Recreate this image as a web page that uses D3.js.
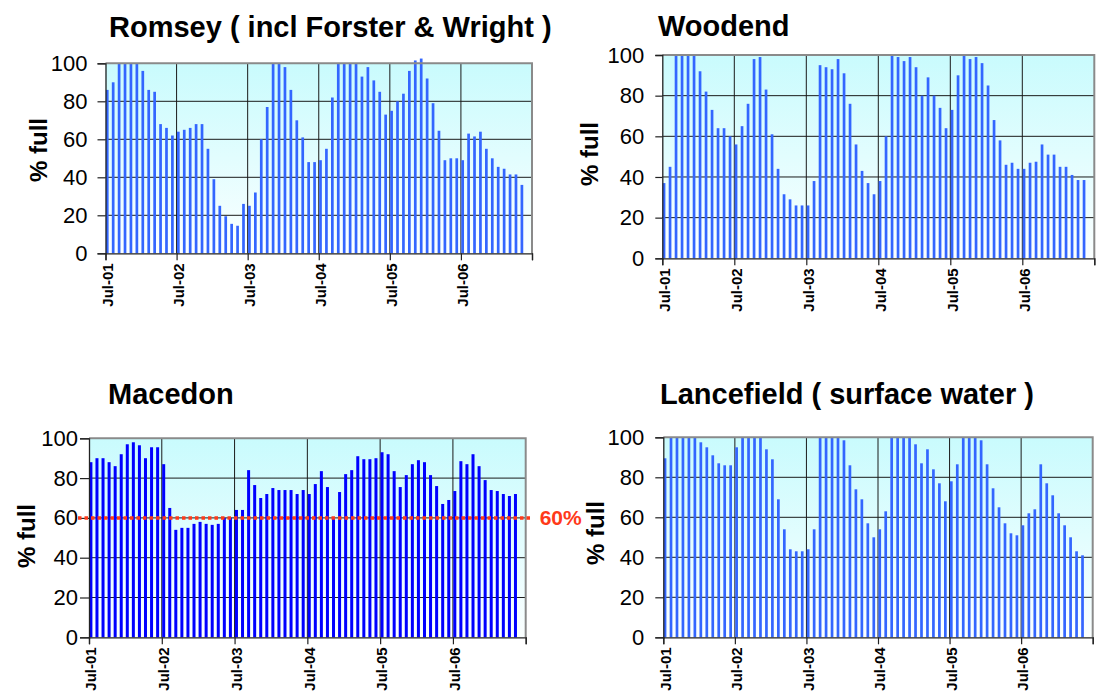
<!DOCTYPE html>
<html>
<head>
<meta charset="utf-8">
<script src="https://cdn.jsdelivr.net/npm/d3@7"></script>
<style>
  html, body { margin: 0; padding: 0; background: #ffffff; }
  svg { display: block; font-family: "Liberation Sans", Arial, sans-serif; }
</style>
</head>
<body>
<svg id="chart" width="1096" height="700"></svg>
<script>
// Monthly storage levels (% full), July 2001 onwards
const yearLabels = ["Jul-01", "Jul-02", "Jul-03", "Jul-04", "Jul-05", "Jul-06"];
const yTicks = [0, 20, 40, 60, 80, 100];
const monthSlots = 72;
const targetLevel = 60;
const targetLabel = "60%";

const romsey = [
  86, 90, 100, 100, 100, 100, 96, 86, 85, 68, 66, 62,
  64, 65, 66, 68, 68, 55, 39, 25, 19.5, 15.5, 14.5, 26,
  25, 32, 60, 77, 100, 100, 98, 86, 70, 61, 48, 48,
  49, 55, 82, 100, 100, 100, 100, 93, 98, 91, 85, 73,
  75, 80, 84, 96, 101.5, 102.5, 92, 79, 64.5, 49, 50, 50,
  49, 63, 61.5, 64, 55, 50, 45.5, 44.5, 41.5, 41.5, 36
];
const woodend = [
  37, 45, 100, 100, 100, 100, 92, 82, 73, 64, 64, 60,
  56, 65, 76, 98, 99, 83, 61, 44, 31.5, 29, 26, 26,
  26, 38, 95, 94, 93, 98, 91, 76, 56, 43, 37, 31.5,
  38, 60, 100, 99, 97, 99, 94, 80, 89, 80, 74, 64,
  73, 90, 100, 98, 99, 96, 85, 68, 58, 46, 47, 44,
  44, 47, 47.5, 56, 51, 51, 45, 45, 41, 38.5, 38.5
];
const macedon = [
  88, 90, 90, 88, 86, 92, 97, 98, 96.5, 90, 95.5, 95.5,
  87, 65, 54, 55, 55, 57, 58, 57, 56.5, 57, 60, 60,
  64, 64, 84, 76.5, 70, 72, 75, 74, 74, 74, 72, 74,
  72, 77, 83.5, 75.5, 60, 73, 82, 84, 91, 89.5, 89.5, 90,
  93, 92, 83.5, 75.5, 81.5, 87, 89, 88, 81.5, 76, 67, 69,
  73.5, 88.5, 87, 92, 86, 79, 74, 73.5, 72, 71, 72
];
const lancefield = [
  89.5, 100, 100, 100, 100, 100, 97.5, 95, 91, 87, 86, 86,
  95, 100, 100, 100, 100, 94, 89, 69, 54, 44, 43, 43,
  44, 54, 100, 100, 100, 100, 98.5, 86, 74, 69, 57, 50,
  54, 63, 100, 100, 100, 100, 96.5, 87, 94, 84, 77, 68,
  78, 86.5, 100, 100, 100, 98.5, 86.5, 74.5, 65, 57, 52, 51,
  56, 62, 64, 86.5, 77, 71, 62, 56, 50, 43, 41
];

const panels = [
  { title: "Romsey ( incl Forster & Wright )", values: romsey, color: "#3366ff", barW: 2.7,
    x0: 105.5, x1: 532, y0: 63.3, y1: 253.3, tx: 109, ty: 37, lx: 39, ly: 150, tick: 8, pad: 10 },
  { title: "Woodend", values: woodend, color: "#3366ff", barW: 2.7,
    x0: 662.3, x1: 1094.3, y0: 55, y1: 258.3, tx: 658, ty: 36, lx: 590, ly: 154, tick: 7, pad: 11 },
  { title: "Macedon", values: macedon, color: "#0000ff", barW: 3,
    x0: 89, x1: 525.7, y0: 438.3, y1: 637.3, tx: 108, ty: 404, lx: 27, ly: 536, tick: 9, pad: 2, target: true },
  { title: "Lancefield ( surface water )", values: lancefield, color: "#3366ff", barW: 2.7,
    x0: 663.3, x1: 1092.7, y0: 437.3, y1: 637.3, tx: 660, ty: 404, lx: 596, ly: 533, tick: 8, pad: 11 }
];

const svg = d3.select("#chart");
const defs = svg.append("defs");
const grad = defs.append("linearGradient")
  .attr("id", "plotFill").attr("x1", 0).attr("y1", 0).attr("x2", 0).attr("y2", 1);
grad.append("stop").attr("offset", "0%").attr("stop-color", "#c9fbfd");
grad.append("stop").attr("offset", "100%").attr("stop-color", "#fbffff");

panels.forEach(p => {
  const g = svg.append("g");
  const x = d3.scaleLinear().domain([0, monthSlots]).range([p.x0, p.x1]);
  const y = d3.scaleLinear().domain([0, 100]).range([p.y1, p.y0]);

  // plot background
  g.append("rect")
    .attr("x", p.x0).attr("y", p.y0)
    .attr("width", p.x1 - p.x0).attr("height", p.y1 - p.y0)
    .attr("fill", "url(#plotFill)");

  // horizontal gridlines
  g.append("g").selectAll("line")
    .data(yTicks.filter(t => t > 0 && t < 100))
    .join("line")
    .attr("x1", p.x0).attr("x2", p.x1)
    .attr("y1", d => y(d)).attr("y2", d => y(d))
    .attr("stroke", "#1a1a1a").attr("stroke-width", 1);

  // vertical year gridlines
  const yearIdx = d3.range(1, yearLabels.length).map(k => k * 12);
  g.append("g").selectAll("line")
    .data(yearIdx)
    .join("line")
    .attr("x1", d => x(d)).attr("x2", d => x(d))
    .attr("y1", p.y0).attr("y2", p.y1)
    .attr("stroke", "#1a1a1a").attr("stroke-width", 1);

  // monthly bars
  g.append("g").selectAll("rect")
    .data(p.values)
    .join("rect")
    .attr("x", (d, i) => x(i) + 0.4)
    .attr("width", p.barW)
    .attr("y", d => y(d))
    .attr("height", d => y(0) - y(d))
    .attr("fill", p.color);

  // plot frame (top and right)
  g.append("path")
    .attr("d", `M${p.x0},${p.y0}H${p.x1}V${p.y1}`)
    .attr("fill", "none").attr("stroke", "#8a8a8a").attr("stroke-width", 2);

  // y axis
  const yAxis = g.append("g")
    .attr("transform", `translate(${p.x0},0)`)
    .call(d3.axisLeft(y).tickValues(yTicks).tickSize(p.tick).tickPadding(p.pad));
  yAxis.select(".domain").attr("stroke", "#222").attr("stroke-width", 1.3);
  yAxis.selectAll(".tick line").attr("stroke", "#222").attr("stroke-width", 1.2);
  yAxis.selectAll(".tick text")
    .attr("font-size", 22).attr("fill", "#000")
    .attr("font-family", "'Liberation Sans', Arial, sans-serif");

  // x axis with year labels
  const xAxis = g.append("g")
    .attr("transform", `translate(0,${p.y1})`)
    .call(d3.axisBottom(x)
      .tickValues(d3.range(0, monthSlots + 1, 12))
      .tickSize(7)
      .tickFormat(d => yearLabels[d / 12] || ""));
  xAxis.select(".domain").attr("stroke", "#222").attr("stroke-width", 1.3);
  xAxis.selectAll(".tick line").attr("stroke", "#222").attr("stroke-width", 1.2);
  xAxis.selectAll(".tick text")
    .attr("transform", "rotate(-90)")
    .attr("text-anchor", "end")
    .attr("x", -10).attr("y", 0).attr("dy", "0.45em")
    .attr("font-size", 15).attr("font-weight", "bold").attr("fill", "#000")
    .attr("font-family", "'Liberation Sans', Arial, sans-serif");

  // titles
  svg.append("text")
    .attr("x", p.tx).attr("y", p.ty)
    .attr("font-size", 29).attr("font-weight", "bold").attr("fill", "#000")
    .text(p.title);

  // y axis title
  svg.append("text")
    .attr("transform", `translate(${p.lx},${p.ly}) rotate(-90)`)
    .attr("text-anchor", "middle").attr("dy", "0.35em")
    .attr("font-size", 24).attr("font-weight", "bold").attr("fill", "#000")
    .text("% full");

  // 60% target line
  if (p.target) {
    const yt = y(targetLevel);
    svg.append("line")
      .attr("x1", p.x0 - 11).attr("x2", p.x1 + 5)
      .attr("y1", yt).attr("y2", yt)
      .attr("stroke", "#ff3a1a").attr("stroke-width", 3.5)
      .attr("stroke-dasharray", "3.5,3");
    svg.append("text")
      .attr("x", p.x1 + 14).attr("y", yt).attr("dy", "0.36em")
      .attr("font-size", 21).attr("font-weight", "bold").attr("fill", "#ff3a1a")
      .text(targetLabel);
  }
});
</script>
</body>
</html>
